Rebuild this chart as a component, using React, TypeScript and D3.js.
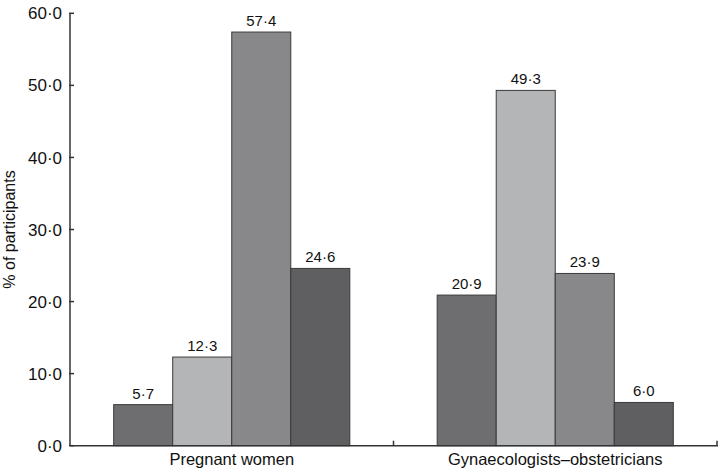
import React from "react";
import * as d3 from "d3";

const categories = ["Pregnant women", "Gynaecologists\u2013obstetricians"];
const seriesKeys = ["s1", "s2", "s3", "s4"];
const pregnantWomen = [5.7, 12.3, 57.4, 24.6];
const gynaecologistsObstetricians = [20.9, 49.3, 23.9, 6.0];
const yTicks = [0, 10, 20, 30, 40, 50, 60];
const barColors = ["#6e6e70", "#b4b5b7", "#88888b", "#5f5f62"];

const W = 718;
const H = 469;
const margin = { left: 70, right: 1, top: 13.3, bottom: 23.3 };

const fmt = (v: number) => d3.format(".1f")(v).replace(".", "\u00b7");

export default function App() {
  const values = [pregnantWomen, gynaecologistsObstetricians];
  const x0 = d3
    .scaleBand<string>()
    .domain(categories)
    .range([margin.left, W - margin.right])
    .paddingInner(0)
    .paddingOuter(0);
  const x1 = d3
    .scaleBand<string>()
    .domain(seriesKeys)
    .range([0, x0.bandwidth()])
    .paddingInner(0)
    .paddingOuter(0.74);
  const y = d3
    .scaleLinear()
    .domain([0, 60])
    .range([H - margin.bottom, margin.top]);

  const font = "'Liberation Sans', Arial, Helvetica, sans-serif";
  const axisColor = "#333";
  const y0 = y(0);

  return (
    <svg
      width={W}
      height={H}
      style={{ position: "absolute", left: 0, top: 0, background: "#fff" }}
      fontFamily={font}
    >
      {/* bars */}
      {categories.map((c, ci) =>
        seriesKeys.map((k, si) => {
          const v = values[ci][si];
          const bx = (x0(c) as number) + (x1(k) as number);
          const by = y(v);
          return (
            <g key={c + k}>
              <rect
                x={bx}
                y={by}
                width={x1.bandwidth()}
                height={y0 - by}
                fill={barColors[si]}
                stroke="#3a3a3a"
                strokeWidth={1}
              />
              <text
                x={bx + x1.bandwidth() / 2}
                y={by - 6}
                textAnchor="middle"
                fontSize={15}
                fill="#111"
              >
                {fmt(v)}
              </text>
            </g>
          );
        })
      )}

      {/* y axis */}
      <line
        x1={margin.left}
        x2={margin.left}
        y1={y(60)}
        y2={y0}
        stroke={axisColor}
        strokeWidth={1.5}
      />
      {yTicks.map((t) => (
        <g key={t}>
          <line
            x1={margin.left - 1}
            x2={margin.left + 4}
            y1={y(t)}
            y2={y(t)}
            stroke={axisColor}
            strokeWidth={1.5}
          />
          <text
            x={margin.left - 8}
            y={y(t)}
            dy="0.36em"
            textAnchor="end"
            fontSize={17}
            fill="#111"
          >
            {fmt(t)}
          </text>
        </g>
      ))}

      {/* x axis */}
      <line
        x1={margin.left}
        x2={W}
        y1={y0}
        y2={y0}
        stroke={axisColor}
        strokeWidth={1.5}
      />
      {categories.map((c) => {
        const xe = (x0(c) as number) + x0.bandwidth();
        return (
          <line
            key={"t" + c}
            x1={xe}
            x2={xe}
            y1={y0}
            y2={y0 - 5}
            stroke={axisColor}
            strokeWidth={1.5}
          />
        );
      })}
      {categories.map((c) => (
        <text
          key={"l" + c}
          x={(x0(c) as number) + x0.bandwidth() / 2}
          y={465}
          textAnchor="middle"
          fontSize={16.5}
          fill="#111"
        >
          {c}
        </text>
      ))}

      {/* y axis title */}
      <text
        transform={`translate(14.5, ${(y(60) + y0) / 2}) rotate(-90)`}
        textAnchor="middle"
        fontSize={16}
        fill="#111"
      >
        % of participants
      </text>
    </svg>
  );
}
